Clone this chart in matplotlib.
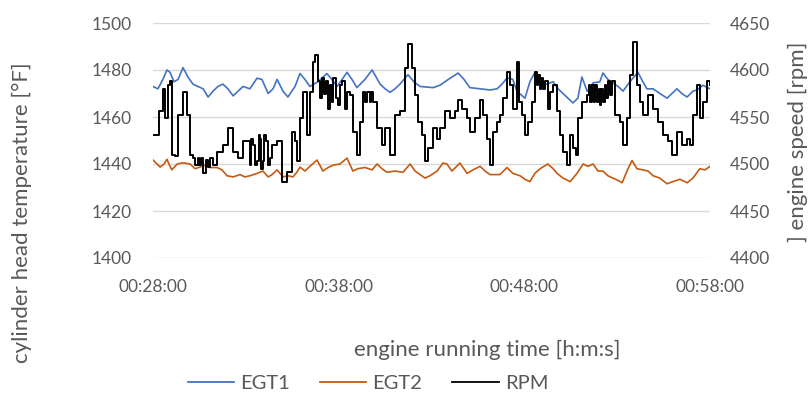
import matplotlib
matplotlib.use("Agg")
import matplotlib.pyplot as plt
from matplotlib.ticker import FuncFormatter, MultipleLocator

plt.rcParams['font.family'] = ['Lato', 'DejaVu Sans']

## data (elapsed seconds from 00:28:00)
egt1_t = [0, 16, 32, 45, 55, 68, 81, 97, 113, 129, 145, 162, 178, 194, 210, 226, 242, 259, 275, 291,
          313, 336, 352, 372, 388, 401, 420, 436, 459, 475, 491, 507, 533, 562, 578, 595, 611, 627, 643, 659,
          685, 708, 721, 734, 750, 766, 782, 798, 824, 843, 863, 905, 927, 960, 986, 1005, 1024, 1057, 1089, 1112,
          1128, 1144, 1163, 1176, 1202, 1218, 1234, 1251, 1273, 1293, 1309, 1325, 1341, 1357, 1373, 1386, 1403, 1422, 1444, 1454,
          1470, 1486, 1503, 1519, 1541, 1567, 1583, 1596, 1616, 1638, 1661, 1677, 1693, 1709, 1726, 1745, 1758, 1777, 1800]
egt1 = [1473, 1472, 1476, 1480, 1479, 1475, 1476, 1481, 1477, 1474, 1473, 1472, 1468.5, 1471, 1473, 1474, 1472, 1469, 1471, 1473,
        1472, 1476.5, 1476, 1470, 1472, 1476, 1471, 1468.5, 1473, 1478.5, 1476, 1473, 1475, 1478.5, 1476, 1473, 1476, 1479, 1476, 1472.5,
        1476, 1480, 1477, 1474, 1472, 1470.5, 1472, 1474, 1478, 1475, 1473, 1472.5, 1473.5, 1476.5, 1478.7, 1476, 1472.5, 1472, 1471.5, 1472,
        1474, 1476.6, 1476, 1471, 1468, 1475, 1479, 1474, 1474, 1475, 1472, 1470, 1468, 1466, 1468, 1477, 1471, 1474.5, 1475, 1478.7,
        1476, 1474.5, 1473, 1471, 1475, 1479, 1475, 1472, 1472, 1470, 1468, 1470, 1472, 1470, 1468.5, 1471, 1471.5, 1473.5, 1472]

egt2_t = [0, 13, 23, 36, 45, 55, 61, 78, 97, 120, 136, 152, 168, 184, 207, 223, 239, 259, 281, 297,
          313, 336, 355, 372, 385, 401, 420, 436, 452, 465, 475, 491, 507, 530, 549, 566, 582, 604, 627, 646,
          662, 685, 708, 724, 740, 756, 782, 808, 831, 847, 863, 879, 895, 918, 937, 950, 966, 992, 1015, 1034,
          1057, 1073, 1089, 1121, 1144, 1163, 1186, 1202, 1218, 1234, 1251, 1276, 1293, 1306, 1325, 1348, 1370, 1390, 1406, 1422,
          1438, 1454, 1470, 1486, 1503, 1516, 1535, 1548, 1564, 1583, 1600, 1616, 1638, 1661, 1680, 1703, 1726, 1745, 1767, 1784, 1800]
egt2 = [1441.7, 1440, 1438.7, 1440, 1442, 1439, 1437.5, 1440, 1440.5, 1440, 1438, 1438.7, 1439.5, 1438.5, 1438.5, 1437.5, 1435, 1434.5, 1435.5, 1434.5,
        1435, 1436, 1437, 1434.5, 1435.5, 1437.5, 1434.5, 1435, 1434.5, 1436.5, 1438.7, 1437, 1439, 1441.7, 1437, 1438.5, 1439.5, 1440, 1442.5, 1437,
        1438, 1438.5, 1437.5, 1440, 1438, 1436.5, 1437, 1436.5, 1440, 1437, 1435.5, 1434, 1435, 1437, 1440.4, 1440, 1437, 1440.4, 1436, 1437.5,
        1439, 1437, 1435.5, 1435.5, 1438.5, 1436, 1435, 1433.5, 1432.5, 1436, 1438, 1440, 1438, 1436, 1434, 1432.5, 1436, 1440, 1439, 1440,
        1437, 1437, 1435, 1434, 1433, 1432, 1438, 1441.5, 1438, 1437.5, 1437, 1435, 1434, 1431.6, 1432.5, 1433.5, 1432, 1434, 1438, 1437.5, 1439]

rpm_t = [0, 10, 19, 32, 39, 48, 55, 61, 71, 81, 97, 110, 120, 129, 137, 145, 150, 155, 162, 171, 177, 184, 194,
         207, 226, 242, 259, 275, 291, 313, 318, 323, 330, 336, 341, 346, 350, 355, 360, 365, 372, 378, 384, 391, 401, 417, 433, 449, 459, 465,
         475, 485, 498, 507, 517, 524, 533, 540, 545, 552, 558, 566, 572, 577, 582, 590, 598, 604, 611, 620, 628, 637, 646, 659, 669,
         679, 686, 693, 701, 706, 711,
         724, 740, 750, 766, 782, 798, 814, 824, 837, 847, 856, 869, 879, 889, 905, 918, 927, 944, 960, 976,
         986, 998, 1015, 1024, 1041, 1057, 1066, 1079, 1089, 1099, 1112, 1121, 1131, 1144, 1154, 1163, 1176, 1183, 1192, 1202,
         1212, 1225, 1234, 1240, 1244, 1250, 1255, 1260, 1266, 1276, 1283, 1293, 1306, 1315, 1325, 1338, 1348, 1357, 1367, 1373, 1386,
         1403, 1408, 1412, 1418, 1424, 1428, 1434, 1440, 1444, 1449, 1454, 1460, 1465, 1470, 1476, 1483,
         1493, 1509, 1519, 1532, 1541, 1551, 1564, 1574, 1583, 1600, 1616, 1632, 1648, 1664, 1677, 1693, 1709,
         1726, 1735, 1745, 1758, 1767, 1777, 1790, 1800]
rpm = [4531, 4531, 4556, 4580, 4549, 4584, 4588, 4510, 4508, 4552, 4577, 4552, 4510, 4506, 4499, 4506, 4499, 4506, 4490, 4504, 4497, 4506, 4499,
       4513, 4520, 4538, 4513, 4506, 4524, 4499, 4527, 4520, 4499, 4503, 4531, 4527, 4495, 4503, 4531, 4524, 4499, 4506, 4520, 4520, 4524, 4481, 4492, 4534, 4524, 4503,
       4549, 4577, 4531, 4577, 4609, 4616, 4588, 4570, 4591, 4575, 4588, 4559, 4584, 4566, 4591, 4570, 4563, 4584, 4588, 4559, 4577, 4573, 4534, 4510, 4545,
       4577, 4566, 4577, 4566, 4577, 4566,
       4538, 4520, 4538, 4510, 4552, 4556, 4602, 4628, 4602, 4573, 4545, 4531, 4503, 4517, 4538, 4527, 4538, 4556, 4549, 4556,
       4568, 4559, 4549, 4534, 4549, 4568, 4552, 4527, 4499, 4534, 4545, 4552, 4570, 4598, 4584, 4559, 4609, 4566, 4552, 4531,
       4545, 4566, 4598, 4584, 4595, 4580, 4591, 4580, 4588, 4559, 4577, 4584, 4556, 4531, 4513, 4499, 4531, 4517, 4510, 4549, 4566,
       4573, 4584, 4566, 4584, 4566, 4584, 4566, 4580, 4563, 4580, 4566, 4584, 4570, 4588, 4573, 4588,
       4552, 4545, 4520, 4549, 4595, 4630, 4584, 4566, 4552, 4573, 4559, 4545, 4531, 4524, 4510, 4534, 4520,
       4527, 4520, 4552, 4584, 4549, 4566, 4588, 4584]

start_s = 28 * 60
x_ticks = [0, 600, 1200, 1800]


def hms(v, pos=None):
    s = int(round(v)) + start_s
    return f"{s // 3600:02d}:{(s % 3600) // 60:02d}:{s % 60:02d}"


tick_col = "#595959"
grid_col = "#d9d9d9"

fig = plt.figure(figsize=(8.12, 3.97), dpi=100)
ax = fig.add_axes([153 / 812, 1 - 258 / 397, 557 / 812, 235 / 397])
ax2 = ax.twinx()

l1, = ax.plot(egt1_t, egt1, color="#4472C4", lw=1.2, label="EGT1")
l2, = ax.plot(egt2_t, egt2, color="#C55A11", lw=1.2, label="EGT2")
l3, = ax2.plot(rpm_t, rpm, color="black", lw=1.4, drawstyle="steps-post", label="RPM")

ax.set_xlim(0, 1800)
ax.set_ylim(1400, 1500)
ax2.set_ylim(4400, 4650)
ax.set_xticks(x_ticks)
ax.xaxis.set_major_formatter(FuncFormatter(hms))
ax.yaxis.set_major_locator(MultipleLocator(20))
ax2.yaxis.set_major_locator(MultipleLocator(50))
ax.grid(axis="y", color=grid_col, lw=1)
ax.set_axisbelow(True)

for a in (ax, ax2):
    for sp in a.spines.values():
        sp.set_visible(False)
    a.tick_params(length=0, labelsize=12.5, colors=tick_col)
ax.tick_params(axis="y", pad=15)
ax.tick_params(axis="x", pad=15)
ax2.tick_params(axis="y", pad=14.5)

fig.text(22 / 812, 1 - 213 / 397, "cylinder head temperature [°F]", rotation=90,
         ha="center", va="center", fontsize=16, color=tick_col)
fig.text(798 / 812, 1 - 142 / 397, "] engine speed [rpm]", rotation=90,
         ha="center", va="center", fontsize=16, color=tick_col)
fig.text(487 / 812, 1 - 350 / 397, "engine running time [h:m:s]",
         ha="center", va="center", fontsize=16, color=tick_col)

leg = fig.legend(handles=[l1, l2, l3], loc="center", bbox_to_anchor=(368 / 812, 1 - 383 / 397),
                 ncol=3, frameon=False, fontsize=14.5, handlelength=2.3, handletextpad=0.3,
                 columnspacing=1.5)
for t in leg.get_texts():
    t.set_color(tick_col)
for h in leg.get_lines():
    h.set_linewidth(1.3)
    h.set_drawstyle("default")

fig.savefig("out.png", dpi=100)
